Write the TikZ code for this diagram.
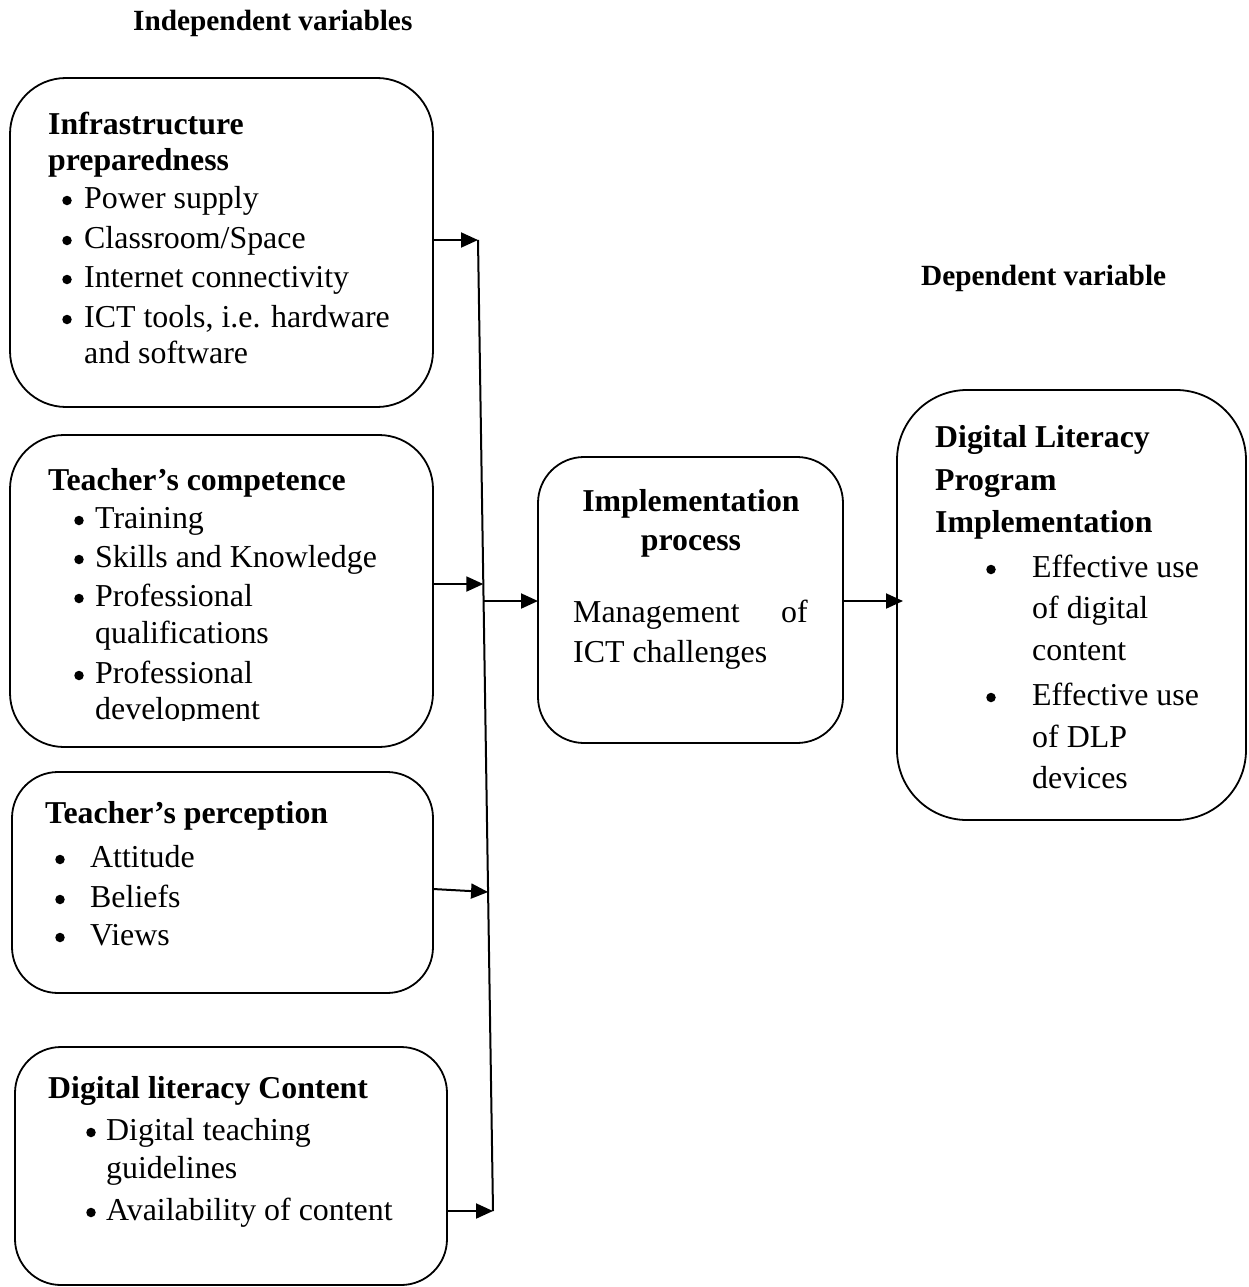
\documentclass[tikz,border=0pt]{standalone}
\usepackage{fontspec}
\setmainfont{Liberation Serif}
\usetikzlibrary{arrows.meta,calc}

\tikzset{
  box/.style={draw, line width=1.8pt, anchor=north west, inner sep=0pt, outer sep=0pt},
  head/.style={anchor=base west, inner sep=0pt, font=\fontsize{31.8}{36}\selectfont\bfseries},
  txt/.style={anchor=base west, inner sep=0pt, font=\fontsize{31.9}{38}\selectfont},
  dot/.style={circle, fill, inner sep=0pt, minimum size=9.5pt, yshift=7.5pt},
  caption/.style={anchor=base west, inner sep=0pt, font=\fontsize{29.3}{34}\selectfont\bfseries},
  arr/.style={line width=2pt, -{Triangle[length=17pt,width=15pt]}},
  bus/.style={line width=2pt}
}

\begin{document}
\begin{tikzpicture}[x=1pt, y=-1pt]
\useasboundingbox (0,0) rectangle (1248,1287);

% captions
\node[caption] (cap1) at (133,31) {Independent variables};
\node[caption] (cap2) at (921,285) {Dependent variable};

% outline boxes
\node[box, rounded corners=56pt, minimum width=423pt, minimum height=329pt] (b1) at (10,78) {};
\node[box, rounded corners=54pt, minimum width=423pt, minimum height=312pt] (b2) at (10,435) {};
\node[box, rounded corners=46pt, minimum width=421pt, minimum height=221pt] (b3) at (12,772) {};
\node[box, rounded corners=46pt, minimum width=432pt, minimum height=238pt] (b4) at (15,1047) {};
\node[box, rounded corners=46pt, minimum width=305pt, minimum height=286pt] (b5) at (538,457) {};
\node[box, rounded corners=70pt, minimum width=349pt, minimum height=430pt] (b6) at (897,390) {};

% infrastructure preparedness
\node[head] (h1a) at (48,135) {Infrastructure};
\node[head] (h1b) at (48,170) {preparedness};
\node[dot] (d11) at (67,208) {}; \node[txt] (t11) at (84,208) {Power supply};
\node[dot] (d12) at (67,248) {}; \node[txt] (t12) at (84,248) {Classroom/Space};
\node[dot] (d13) at (67,287) {}; \node[txt] (t13) at (84,287) {Internet connectivity};
\node[dot] (d14) at (67,327) {}; \node[txt] (t14) at (84,327) {ICT tools, i.e. hardware};
\node[txt] (t15) at (84,363) {and software};

% teacher's competence
\node[head] (h2) at (48,490) {Teacher’s competence};
\node[dot] (d21) at (79,528) {}; \node[txt] (t21) at (95,528) {Training};
\node[dot] (d22) at (79,567) {}; \node[txt] (t22) at (95,567) {Skills and Knowledge};
\node[dot] (d23) at (79,606) {}; \node[txt] (t23) at (95,606) {Professional};
\node[txt] (t24) at (95,643) {qualifications};
\node[dot] (d25) at (79,683) {}; \node[txt] (t25) at (95,683) {Professional};
\begin{scope}
  \clip (0,600) rectangle (433,720);
  \node[txt] (t26) at (95,719) {development};
\end{scope}

% teacher's perception
\node[head] (h3) at (45,823) {Teacher’s perception};
\node[dot] (d31) at (60,867) {}; \node[txt] (t31) at (90,867) {Attitude};
\node[dot] (d32) at (60,907) {}; \node[txt] (t32) at (90,907) {Beliefs};
\node[dot] (d33) at (60,945) {}; \node[txt] (t33) at (90,945) {Views};

% digital literacy content
\node[head] (h4) at (48,1098) {Digital literacy Content};
\node[dot] (d41) at (91,1140) {}; \node[txt] (t41) at (106,1140) {Digital teaching};
\node[txt] (t42) at (106,1178) {guidelines};
\node[dot] (d43) at (91,1220) {}; \node[txt] (t43) at (106,1220) {Availability of content};

% implementation process
\node[head, anchor=base] (h5a) at (691,511) {Implementation};
\node[head, anchor=base] (h5b) at (691,550) {process};
\node[txt] (t51) at (573,622) {Management};
\node[txt, anchor=base east] (t52) at (808,622) {of};
\node[txt] (t53) at (573,662) {ICT challenges};

% digital literacy program implementation
\node[head] (h6a) at (935,447) {Digital Literacy};
\node[head] (h6b) at (935,490) {Program};
\node[head] (h6c) at (935,532) {Implementation};
\node[dot] (d61) at (991,577) {}; \node[txt] (t61) at (1032,577) {Effective use};
\node[txt] (t62) at (1032,618) {of digital};
\node[txt] (t63) at (1032,660) {content};
\node[dot] (d64) at (991,705) {}; \node[txt] (t64) at (1032,705) {Effective use};
\node[txt] (t65) at (1032,747) {of DLP};
\node[txt] (t66) at (1032,788) {devices};

% collecting line and its junctions
\coordinate (bustop) at (478,240);
\coordinate (busbot) at (493,1211);
\coordinate (j2) at ($(bustop)!0.3543!(busbot)$);
\coordinate (jout) at ($(bustop)!0.3718!(busbot)$);
\coordinate (j3) at ($(bustop)!0.6715!(busbot)$);
\draw[bus] (bustop) -- (busbot);

% connectors
\draw[arr] (b1.east |- bustop) -- (bustop);
\draw[arr] (b2.east |- j2) -- (j2);
\draw[arr] (b3.east |- 0,889) -- (j3);
\draw[arr] (b4.east |- busbot) -- (busbot);
\draw[arr] (jout) -- (b5.west |- jout);
\coordinate (tip6) at ($(b6.west |- jout)+(6,0)$);
\draw[arr] (b5.east |- jout) -- (tip6);
\end{tikzpicture}
\end{document}
